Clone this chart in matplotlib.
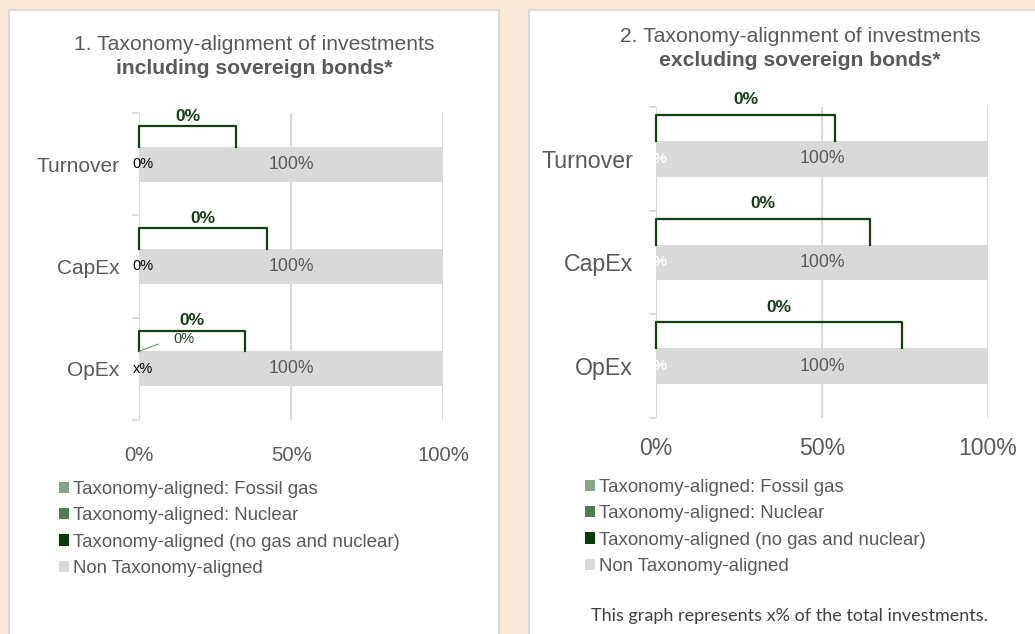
import matplotlib.pyplot as plt
from matplotlib.patches import Rectangle, Patch

plt.rcParams['font.family'] = ['Liberation Sans', 'DejaVu Sans']

W, H = 1035, 634

categories = ["Turnover", "CapEx", "OpEx"]
series = ["Taxonomy-aligned: Fossil gas", "Taxonomy-aligned: Nuclear",
          "Taxonomy-aligned (no gas and nuclear)", "Non Taxonomy-aligned"]
colores = ["#87A48A", "#4F7A52", "#0B3A0B", "#D9D9D9"]
ticks = [0, 50, 100]

# 1. including sovereign bonds
incl_gas = [0, 0, 0]
incl_nuclear = [0, 0, 0]
incl_aligned = [0, 0, 0]
incl_non = [100, 100, 100]
incl_bracket = [32, 42, 35]
incl_small = ["0%", "0%", "x%"]

# 2. excluding sovereign bonds
excl_gas = [0, 0, 0]
excl_nuclear = [0, 0, 0]
excl_aligned = [0, 0, 0]
excl_non = [100, 100, 100]
excl_bracket = [54, 64.5, 74]

GRAY = "#595959"
GREEN = "#143F14"


def fx(px):
    return px / W


def fy(py):
    return 1 - py / H


fig = plt.figure(figsize=(W / 100, H / 100), dpi=100)
fig.patch.set_facecolor("#FAE8D7")

# white panels
for x0, x1 in [(9, 499), (529, 1045)]:
    fig.patches.append(Rectangle((fx(x0), fy(650)), fx(x1) - fx(x0), fy(10) - fy(650),
                                 transform=fig.transFigure, facecolor="white",
                                 edgecolor="#D9D9D9", linewidth=1.5, zorder=-5))


def panel(rect, gas, nuc, aligned, non, bracket, catsize, ticksize, catpad, tickpad, brh, lab_off):
    ax = fig.add_axes(rect)
    ax.set_facecolor("none")
    y = list(range(len(categories)))
    left = [0] * len(y)
    conts = []
    for vals, c in zip([gas, nuc, aligned, non], colores):
        b = ax.barh(y, vals, left=left, height=0.345, color=c, zorder=2)
        conts.append(b)
        left = [l + v for l, v in zip(left, vals)]
    ax.bar_label(conts[3], labels=[f"{v:.0f}%" for v in non], label_type="center",
                 color=GRAY, fontsize=12.7)
    # brackets over the taxonomy-aligned share
    for i in y:
        top = i - 0.345 / 2
        ytop = top - brh
        ax.plot([0, 0, bracket[i], bracket[i]], [top, ytop, ytop, top], color=GREEN,
                lw=1.6, solid_joinstyle="round", zorder=3, clip_on=False)
        tot = gas[i] + nuc[i] + aligned[i]
        ax.annotate(f"{tot:.0f}%", (bracket[i] / 2, ytop), xytext=(0, lab_off),
                    textcoords="offset points", ha="center", va="center",
                    color=GREEN, fontsize=12.5, fontweight="bold", annotation_clip=False)
    ax.set_xlim(0, 100)
    ax.set_ylim(len(y) - 0.5, -0.5)
    for s in ax.spines.values():
        s.set_visible(False)
    ax.set_xticks(ticks)
    ax.set_xticklabels([f"{t}%" for t in ticks])
    ax.xaxis.grid(True, color="#D9D9D9", lw=1.5, zorder=0)
    ax.set_axisbelow(True)
    ax.tick_params(axis="x", length=0, labelsize=ticksize, labelcolor=GRAY, pad=tickpad)
    ax.set_yticks(y)
    ax.set_yticklabels(categories)
    ax.tick_params(axis="y", length=0, labelsize=catsize, labelcolor=GRAY, pad=catpad)
    ax.set_yticks([-0.5, 0.5, 1.5, 2.5], minor=True)
    ax.tick_params(axis="y", which="minor", length=5, width=1.3, color="#D9D9D9")
    return ax


ax1 = panel([fx(139), fy(420), fx(443) - fx(139), fy(113) - fy(420)],
            incl_gas, incl_nuclear, incl_aligned, incl_non, incl_bracket,
            15, 14.6, 14, 19, 0.2, 7)
ax2 = panel([fx(656), fy(418), fx(988) - fx(656), fy(107) - fy(418)],
            excl_gas, excl_nuclear, excl_aligned, excl_non, excl_bracket,
            16.7, 16.6, 16.5, 13.5, 0.25, 11)

# small data labels on the first chart
for i, lab in enumerate(incl_small):
    ax1.annotate(lab, (incl_aligned[i], i), xytext=(3, 0), textcoords="offset points",
                 ha="center", va="center", fontsize=10.5, color="black", zorder=4)
ax1.annotate(f"{incl_gas[2]:.0f}%", (incl_gas[2], 2 - 0.345 / 2), xytext=(32, 9),
             textcoords="offset points", ha="center", va="center", fontsize=10.5,
             color="#1E4A1E", zorder=4, annotation_clip=False,
             arrowprops=dict(arrowstyle="-", color="#6E8F6E", lw=0.8, relpos=(0, 0.5),
                             shrinkA=9, shrinkB=0))
# white labels on the second chart
for i in range(len(categories)):
    ax2.annotate(f"{excl_aligned[i]:.0f}%", (excl_aligned[i], i), ha="center", va="center",
                 fontsize=11, fontweight="bold", color="white", zorder=4)

# titles
fig.text(fx(254), fy(45), "1. Taxonomy-alignment of investments", ha="center", va="center",
         fontsize=15.2, color=GRAY)
fig.text(fx(254), fy(69), "including sovereign bonds*", ha="center", va="center",
         fontsize=15.2, color=GRAY, fontweight="bold")
fig.text(fx(800), fy(37), "2. Taxonomy-alignment of investments", ha="center", va="center",
         fontsize=15.2, color=GRAY)
fig.text(fx(800), fy(61), "excluding sovereign bonds*", ha="center", va="center",
         fontsize=15.2, color=GRAY, fontweight="bold")

# legends
handles = [Patch(facecolor=c, edgecolor="none") for c in colores]
for ax, lx, ly in [(ax1, 59, 481), (ax2, 585, 479)]:
    ax.legend(handles, series, loc="upper left", bbox_to_anchor=(fx(lx), fy(ly)),
              bbox_transform=fig.transFigure, frameon=False, fontsize=13.4,
              labelcolor=GRAY, handlelength=0.55, handleheight=0.55, handletextpad=0.2,
              labelspacing=0.5, borderpad=0, borderaxespad=0)

fig.text(fx(789), fy(616), "This graph represents x% of the total investments.",
         ha="center", va="center", fontsize=13, color="#404040", family=["Lato", "DejaVu Sans"])

fig.savefig("out.png", dpi=100, facecolor=fig.get_facecolor())
